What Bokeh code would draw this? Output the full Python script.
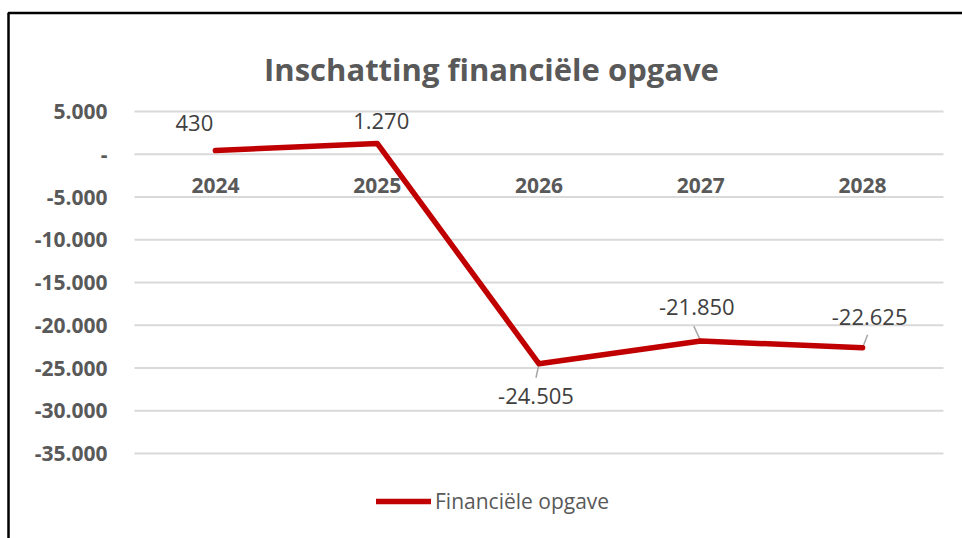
from bokeh.plotting import figure
from bokeh.models import (ColumnDataSource, Range1d, Legend, LegendItem, BoxAnnotation)
from bokeh.core.properties import value
from bokeh.embed import file_html
from bokeh.resources import INLINE

# ---- data ----
categories = ["2024", "2025", "2026", "2027", "2028"]
values = [430, 1270, -24505, -21850, -22625]
series_name = "Financiële opgave"
title_text = "Inschatting financiële opgave"
y_ticks = [5000, 0, -5000, -10000, -15000, -20000, -25000, -30000, -35000]

# ---- layout / style (pixels) ----
W, H = 962, 538
PL, PR, PT, PB = 134, 943, 111, 453      # plot area (gridline extent)
FONT = "Open Sans"
RED = "#C00000"
GRAY = "#595959"
DARK = "#404040"

label_dx = [-21, 4, -3, -4, 7]
label_dy = [-28, -22, 32, -34, -31]
leader = [None, None, (-3, 14), (-7, -15), (5, -13)]


def nl(v):
    if v == 0:
        return "-"
    return f"{v:,}".replace(",", ".")


n = len(categories)
ymin, ymax = min(y_ticks), max(y_ticks)
px_x = n / (PR - PL)
px_y = (ymax - ymin) / (PB - PT)
x_start, x_end = -PL * px_x, n + (W - PR) * px_x
y_end, y_start = ymax + PT * px_y, ymin - (H - PB) * px_y


def sx(px):
    return x_start + px * px_x


def sy(py):
    return y_end - py * px_y


xs = [i + 0.5 for i in range(n)]

p = figure(width=W, height=H, output_backend="svg", toolbar_location=None,
           x_range=Range1d(x_start, x_end), y_range=Range1d(y_start, y_end),
           x_axis_type=None, y_axis_type=None,
           min_border=0, min_border_left=0, min_border_right=0,
           min_border_top=0, min_border_bottom=0,
           background_fill_color="white", border_fill_color="white")
p.outline_line_color = None
p.xgrid.visible = False
p.ygrid.visible = False

# gridlines at y ticks across the category span
p.segment(x0=[0] * len(y_ticks), x1=[n] * len(y_ticks), y0=y_ticks, y1=y_ticks,
          line_color="#d9d9d9", line_width=2)

# y tick labels
p.text(x=[0] * len(y_ticks), y=y_ticks, text=[nl(t) for t in y_ticks],
       x_offset=-27, text_font=value(FONT), text_font_size="21px",
       text_font_style="bold", text_color=GRAY, text_align="right",
       text_baseline="middle")

# category labels at zero line
p.text(x=xs, y=[0] * n, text=categories, text_font=value(FONT),
       text_font_size="21px", text_font_style="bold", text_color=GRAY,
       text_align="center", text_baseline="middle", y_offset=31)

# title
p.text(x=[sx(491)], y=[sy(68)], text=[title_text], text_font=value(FONT),
       text_font_size="31px", text_font_style="bold", text_color=GRAY,
       text_align="center", text_baseline="alphabetic")

# leader lines
lx0, ly0, lx1, ly1 = [], [], [], []
for i, l in enumerate(leader):
    if l is None:
        continue
    lx0.append(xs[i]); ly0.append(values[i])
    lx1.append(xs[i] + l[0] * px_x); ly1.append(values[i] - l[1] * px_y)
p.segment(x0=lx0, y0=ly0, x1=lx1, y1=ly1, line_color="#a6a6a6", line_width=1.5)

# main line
src = ColumnDataSource(dict(x=xs, y=values, lbl=[nl(v) for v in values],
                            dx=label_dx, dy=label_dy))
r = p.line(x="x", y="y", source=src, line_color=RED, line_width=5.5,
           line_join="round", line_cap="round")

# data labels
p.text(x="x", y="y", text="lbl", source=src, x_offset="dx", y_offset="dy",
       text_font=value(FONT), text_font_size="22px", text_color=DARK,
       text_align="center", text_baseline="middle")

# legend
legend = Legend(items=[LegendItem(label=series_name, renderers=[r])],
                location=(376, H - 515), orientation="horizontal",
                label_text_font=FONT, label_text_font_size="21px",
                label_text_color=GRAY, glyph_width=55, glyph_height=22,
                label_height=22, label_standoff=4, padding=0, margin=0,
                border_line_color=None, background_fill_alpha=0)
p.add_layout(legend, "center")

# outer border (left and top edges visible)
p.add_layout(BoxAnnotation(left=sx(8), right=sx(W + 200), top=sy(12.5), bottom=sy(H + 200),
                           fill_alpha=0, line_color="black", line_alpha=1.0,
                           line_width=2.5))

open("out.html", "w").write(file_html(p, INLINE))
